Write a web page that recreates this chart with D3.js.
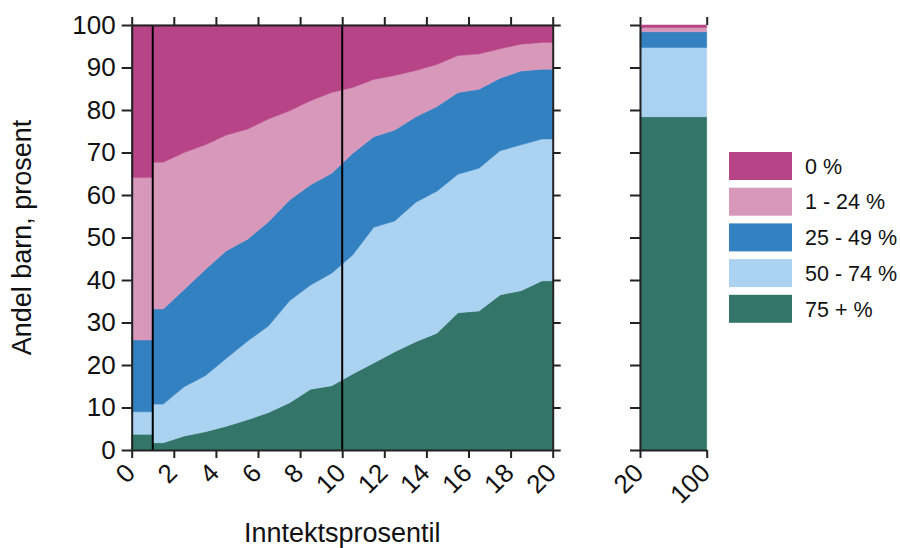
<!DOCTYPE html>
<html>
<head>
<meta charset="utf-8">
<script src="https://cdn.jsdelivr.net/npm/d3@7"></script>
<style>
  html, body { margin: 0; padding: 0; background: #fff; }
  svg { display: block; font-family: "Liberation Sans", Arial, sans-serif; }
</style>
</head>
<body>
<svg id="chart" width="900" height="548"></svg>
<script>
// ---------------- DATA ----------------
const categories = ["75 + %", "50 - 74 %", "25 - 49 %", "1 - 24 %", "0 %"]; // bottom -> top
const legendOrder = ["0 %", "1 - 24 %", "25 - 49 %", "50 - 74 %", "75 + %"];
const colors = ["#34756a", "#abd2f1", "#3481c1", "#d898ba", "#b74487"]; // same order as categories

// percentile 0-1 group
const firstGroupRange = [0, 1];
const firstGroupValues = [3.7, 5.3, 16.9, 38.2, 35.9];

// percentiles 1-20 (values at bin centres)
const percentiles = [1.5, 2.5, 3.5, 4.5, 5.5, 6.5, 7.5, 8.5, 9.5, 10.5, 11.5, 12.5, 13.5, 14.5, 15.5, 16.5, 17.5, 18.5, 19.5];
const share75 = [1.7, 3.3, 4.3, 5.6, 7.1, 8.8, 11.1, 14.3, 15.1, 17.9, 20.5, 23.1, 25.5, 27.5, 32.3, 32.7, 36.5, 37.5, 39.8];
const share50 = [9.1, 11.6, 13.2, 16.0, 18.5, 20.4, 24.0, 24.5, 26.5, 28.0, 31.9, 30.8, 32.8, 33.4, 32.6, 33.6, 33.9, 34.3, 33.4];
const share25 = [22.4, 22.9, 25.0, 25.3, 24.0, 24.5, 23.7, 23.6, 23.5, 23.9, 21.3, 21.4, 20.1, 19.9, 19.2, 18.6, 17.1, 17.4, 16.4];
const share1  = [34.5, 32.2, 29.3, 27.2, 25.9, 24.2, 21.0, 19.8, 19.0, 15.5, 13.5, 12.8, 10.9, 9.9, 8.7, 8.3, 6.9, 6.3, 6.3];
const share0  = [32.3, 30.0, 28.2, 25.9, 24.5, 22.1, 20.2, 17.8, 15.9, 14.7, 12.8, 11.9, 10.7, 9.3, 7.2, 6.8, 5.6, 4.5, 4.1];
const mainRange = [1, 20];

// percentiles 20-100 group
const topGroupRange = [20, 100];
const topGroupValues = [78.4, 16.3, 3.7, 1.0, 0.6];

// axis ticks
const yTicks = [0, 10, 20, 30, 40, 50, 60, 70, 80, 90, 100];
const xTicksMain = [0, 2, 4, 6, 8, 10, 12, 14, 16, 18, 20];
const xTicksTop = [20, 100];
const refLines = [1, 10];

// ---------------- DRAW ----------------
const svg = d3.select("#chart");
const color = d3.scaleOrdinal().domain(categories).range(colors);

const y = d3.scaleLinear().domain([0, 100]).range([450, 25]);
const x = d3.scaleLinear().domain([0, 20]).range([131.7, 552.7]);
const x2 = d3.scaleLinear().domain([20, 100]).range([640, 706.7]);

function rowOf(xv, vals) {
  const r = { x: xv };
  categories.forEach((c, i) => r[c] = vals[i]);
  return r;
}
const seriesArrays = [share75, share50, share25, share1, share0];
const valsAt = i => seriesArrays.map(s => s[i]);

const firstRows = firstGroupRange.map(xv => rowOf(xv, firstGroupValues));
const mainRows = [rowOf(mainRange[0], valsAt(0))]
  .concat(percentiles.map((p, i) => rowOf(p, valsAt(i))))
  .concat([rowOf(mainRange[1], valsAt(percentiles.length - 1))]);
const topRows = topGroupRange.map(xv => rowOf(xv, topGroupValues));

const stack = d3.stack().keys(categories);

function drawAreas(rows, xs) {
  const area = d3.area().x(d => xs(d.data.x)).y0(d => y(d[0])).y1(d => y(d[1]));
  svg.append("g").selectAll("path").data(stack(rows)).join("path")
    .attr("d", area)
    .attr("fill", d => color(d.key))
    .attr("stroke", d => color(d.key))
    .attr("stroke-width", 0.5);
}
drawAreas(firstRows, x);
drawAreas(mainRows, x);
drawAreas(topRows, x2);

// reference lines
svg.append("g").selectAll("line").data(refLines).join("line")
  .attr("x1", d => x(d)).attr("x2", d => x(d))
  .attr("y1", y(0)).attr("y2", y(100))
  .attr("stroke", "#000").attr("stroke-width", 2);

function styleAxis(g) {
  g.selectAll(".domain").attr("stroke", "#222").attr("stroke-width", 2);
  g.selectAll(".tick line").attr("stroke", "#222").attr("stroke-width", 2);
}
const tickFont = 26;

// main left axis
svg.append("g").attr("transform", `translate(${x(0)},0)`)
  .call(d3.axisLeft(y).tickValues(yTicks).tickSize(10).tickSizeOuter(0).tickPadding(6))
  .call(styleAxis)
  .call(g => g.selectAll("text").attr("font-size", tickFont).attr("fill", "#111")
    .attr("font-family", "Liberation Sans, Arial, sans-serif"));

// main right axis (ticks only)
svg.append("g").attr("transform", `translate(${x(20)},0)`)
  .call(d3.axisRight(y).tickValues(yTicks).tickSize(8).tickSizeOuter(0).tickFormat(""))
  .call(styleAxis);

// main top axis (ticks only)
svg.append("g").attr("transform", `translate(0,${y(100)})`)
  .call(d3.axisTop(x).tickValues(xTicksMain).tickSize(8).tickSizeOuter(0).tickFormat(""))
  .call(styleAxis);

// bottom axis labels rotated -45
function rotatedLabels(g) {
  g.selectAll("text")
    .attr("font-size", tickFont).attr("fill", "#111")
    .attr("font-family", "Liberation Sans, Arial, sans-serif")
    .attr("text-anchor", "end")
    .attr("x", 0).attr("y", 0)
    .attr("dy", "0.35em")
    .attr("transform", "translate(-2,18) rotate(-45)");
}
svg.append("g").attr("transform", `translate(0,${y(0)})`)
  .call(d3.axisBottom(x).tickValues(xTicksMain).tickSize(8).tickSizeOuter(0))
  .call(styleAxis)
  .call(rotatedLabels);

// second panel axes
svg.append("g").attr("transform", `translate(${x2(20)},0)`)
  .call(d3.axisLeft(y).tickValues(yTicks).tickSize(10).tickSizeOuter(0).tickFormat(""))
  .call(styleAxis);
svg.append("g").attr("transform", `translate(0,${y(0)})`)
  .call(d3.axisBottom(x2).tickValues(xTicksTop).tickSize(8).tickSizeOuter(0))
  .call(styleAxis)
  .call(rotatedLabels);
svg.append("g").attr("transform", `translate(0,${y(100)})`)
  .call(d3.axisTop(x2).tickValues(xTicksTop).tickSize(8).tickSizeOuter(0).tickFormat(""))
  .call(g => g.select(".domain").remove())
  .call(styleAxis);

// axis titles
svg.append("text")
  .attr("x", x(10)).attr("y", 542)
  .attr("text-anchor", "middle")
  .attr("font-size", 27).attr("fill", "#111")
  .text("Inntektsprosentil");
svg.append("text")
  .attr("transform", `translate(31,${(y(0) + y(100)) / 2}) rotate(-90)`)
  .attr("text-anchor", "middle")
  .attr("font-size", 27).attr("fill", "#111")
  .text("Andel barn, prosent");

// legend
const legend = svg.append("g").attr("transform", "translate(729,152)");
const li = legend.selectAll("g").data(legendOrder).join("g")
  .attr("transform", (d, i) => `translate(0,${i * 35.7})`);
li.append("rect").attr("width", 63).attr("height", 28).attr("fill", d => color(d));
li.append("text").attr("x", 76).attr("y", 14).attr("dy", "0.36em")
  .attr("font-size", 21.5).attr("fill", "#111").text(d => d);
</script>
</body>
</html>
